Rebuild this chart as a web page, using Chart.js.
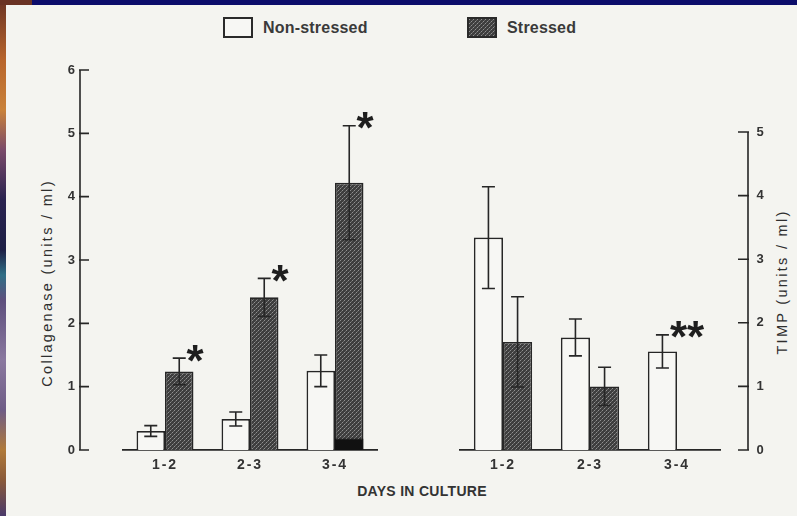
<!DOCTYPE html>
<html>
<head>
<meta charset="utf-8">
<script src="https://cdn.jsdelivr.net/npm/chart.js@4.4.1/dist/chart.umd.min.js"></script>
<style>
  html, body { margin: 0; padding: 0; width: 797px; height: 516px; overflow: hidden; background: #0c0d6b; }
  #edge { position: absolute; left: 0; top: 0; width: 6px; height: 516px;
    background: linear-gradient(to bottom, #6b3424 0px, #b8652c 60px, #c9823a 110px, #7a4a6a 150px, #2a2350 200px,
      #1d1f45 250px, #2f6f86 275px, #5d4f7c 300px, #8a789f 360px, #6e5c86 410px, #b07a3a 450px, #8a5a3a 480px, #4a3a6a 516px); }
  #corner { position: absolute; left: 0; top: 0; width: 32px; height: 5px; background: #6a3324; }
  #sheet { position: absolute; left: 6px; top: 5px; width: 791px; height: 511px; background: #f4f4f0; }
  canvas { position: absolute; top: 0; }
  #collagenase { left: 0; }
  #timp { left: 400px; }
  .txt { position: absolute; font-family: "Liberation Sans", Arial, sans-serif; color: #333; white-space: nowrap; }
  .key { position: absolute; box-sizing: border-box; width: 30px; height: 21px; border: 2px solid #2a2a2a; top: 17px; }
  .legend-label { top: 18px; line-height: 20px; font-size: 16px; font-weight: bold; color: #3a3a3a; letter-spacing: 0.2px; }
  .axis-title { font-size: 14.5px; letter-spacing: 2.3px; color: #2e2e2e; transform: translate(-50%, -50%) rotate(-90deg); }
</style>
</head>
<body>
<div id="sheet"></div>
<div id="edge"></div>
<div id="corner"></div>

<div class="key" id="keyNon" style="left:223px; background:#f7f7f4;"></div>
<div class="txt legend-label" style="left:263px;">Non-stressed</div>
<div class="key" id="keyStr" style="left:467px;"></div>
<div class="txt legend-label" style="left:507px;">Stressed</div>

<div class="txt axis-title" style="left:47px; top:283px;">Collagenase (units / ml)</div>
<div class="txt axis-title" style="left:782px; top:282px;">TIMP (units / ml)</div>
<div class="txt" style="left:322px; top:482px; width:200px; text-align:center; line-height:18px; font-size:14px; font-weight:bold; letter-spacing:0.3px;">DAYS IN CULTURE</div>

<canvas id="collagenase" width="400" height="516"></canvas>
<canvas id="timp" width="397" height="516"></canvas>

<script>
// Culture periods (days)
const days = ['1-2', '2-3', '3-4'];

// Collagenase activity (units / ml), mean and +/- error
const collagenaseNon = [0.30, 0.49, 1.25];
const collagenaseNonErr = [0.085, 0.11, 0.25];
const collagenaseStr = [1.24, 2.41, 4.22];
const collagenaseStrErr = [0.21, 0.30, 0.90];
const collagenaseStrSolid = [null, null, 0.18];
const collagenaseStrMarks = ['*', '*', '*'];

// TIMP (units / ml), mean and +/- error
const timpNon = [3.34, 1.77, 1.55];
const timpNonErr = [0.80, 0.29, 0.26];
const timpNonMarks = ['', '', '**'];
const timpStr = [1.70, 1.00, 0];
const timpStrErr = [0.71, 0.30, 0];

// Axis ranges
const collagenaseMax = 6;
const timpMax = 5;

const FONT = '"Liberation Sans", Arial, sans-serif';
const INK = '#262626';
const PAPER = '#f7f7f4';

// dotted cross-hatch used for the stressed bars
function makeHatchCanvas() {
  const c = document.createElement('canvas');
  c.width = 4; c.height = 4;
  const g = c.getContext('2d');
  g.fillStyle = '#3e3e3e';
  g.fillRect(0, 0, 4, 4);
  g.fillStyle = '#909090';
  g.fillRect(0, 0, 1, 1);
  g.fillRect(2, 2, 1, 1);
  g.fillStyle = '#6a6a6a';
  g.fillRect(1, 3, 1, 1);
  g.fillRect(3, 1, 1, 1);
  return c;
}
const hatchCanvas = makeHatchCanvas();
document.getElementById('keyStr').style.background = 'url(' + hatchCanvas.toDataURL() + ')';

// error bars plus significance marks, computed from the dataset values
const errorBars = {
  id: 'errorBars',
  afterDatasetsDraw(chart) {
    const ctx = chart.ctx;
    const y = chart.scales.y;
    const cap = 6.5;
    chart.data.datasets.forEach((ds, i) => {
      if (!ds.errors) return;
      const meta = chart.getDatasetMeta(i);
      meta.data.forEach((bar, j) => {
        const v = ds.data[j];
        const e = ds.errors[j];
        const top = y.getPixelForValue(v + e);
        if (e) {
          const bot = y.getPixelForValue(v - e);
          ctx.save();
          ctx.strokeStyle = INK;
          ctx.lineWidth = 1.6;
          ctx.beginPath();
          ctx.moveTo(bar.x, top); ctx.lineTo(bar.x, bot);
          ctx.moveTo(bar.x - cap, top); ctx.lineTo(bar.x + cap, top);
          ctx.moveTo(bar.x - cap, bot); ctx.lineTo(bar.x + cap, bot);
          ctx.stroke();
          ctx.restore();
        }
        const mark = ds.marks && ds.marks[j];
        if (mark) {
          ctx.save();
          ctx.letterSpacing = '0px';
          ctx.font = 'bold 44px ' + FONT;
          ctx.fillStyle = '#1e1e1e';
          ctx.textAlign = 'left';
          ctx.textBaseline = 'alphabetic';
          const m = ctx.measureText(mark);
          const cy = top - 5;
          ctx.fillText(mark, bar.x + bar.width / 2 - 7, cy + (m.actualBoundingBoxAscent - m.actualBoundingBoxDescent) / 2);
          ctx.restore();
        }
      });
    });
  }
};

// value axis drawn a little apart from the bars, ticks from the scale
const sideAxis = {
  id: 'sideAxis',
  afterDraw(chart, args, o) {
    const y = chart.scales.y;
    const ctx = chart.ctx;
    const x = o.side === 'left' ? chart.chartArea.left - o.gap : chart.chartArea.right + o.gap;
    ctx.save();
    ctx.strokeStyle = INK;
    ctx.lineWidth = 1.6;
    ctx.beginPath();
    ctx.moveTo(x, y.getPixelForValue(y.min) + 0.8);
    ctx.lineTo(x, y.getPixelForValue(y.max));
    y.ticks.forEach(t => {
      const py = y.getPixelForValue(t.value);
      ctx.moveTo(x - o.back, py);
      ctx.lineTo(x + o.tick, py);
    });
    ctx.stroke();
    ctx.restore();
  }
};

// wider tracking for the typeset labels
const tracking = {
  id: 'tracking',
  beforeDraw(chart) { chart.ctx.letterSpacing = '2px'; },
  afterDraw(chart) { chart.ctx.letterSpacing = '0px'; }
};

function barDatasets(non, nonErr, nonMarks, str, strErr, strMarks, solid) {
  const sets = [
    { label: 'Non-stressed', data: non, errors: nonErr, marks: nonMarks, stack: 'non',
      backgroundColor: PAPER, borderColor: INK, borderWidth: 1.7 }
  ];
  if (solid) {
    sets.push({ label: 'Stressed (solid)', data: solid, stack: 'str',
      backgroundColor: '#111', borderColor: '#111', borderWidth: 1 });
  }
  sets.push({ label: 'Stressed', data: str, errors: strErr, marks: strMarks, stack: 'str',
    backgroundColor: (c) => c.chart.ctx.createPattern(hatchCanvas, 'repeat'),
    borderColor: INK, borderWidth: 1.7 });
  return sets;
}

function baseOptions(side, max, padding, yWidth, yPad) {
  return {
    responsive: false,
    animation: false,
    devicePixelRatio: 1,
    layout: { padding },
    datasets: { bar: { categoryPercentage: 0.67, barPercentage: 1 } },
    plugins: {
      legend: { display: false },
      tooltip: { enabled: false },
      sideAxis: side === 'left' ? { side, gap: 42.5, tick: 9, back: 1 } : { side, gap: 27.5, tick: 1, back: 10 }
    },
    scales: {
      x: {
        stacked: true,
        grid: { display: false, drawTicks: false },
        border: { display: true, color: INK, width: 1.7 },
        ticks: { color: '#333', padding: 7, font: { family: FONT, size: 14, weight: 'bold' } },
        afterFit(s) { s.height = 30; }
      },
      y: {
        position: side,
        stacked: false,
        min: 0,
        max: max,
        grid: { display: false, drawTicks: false },
        border: { display: false },
        ticks: { stepSize: 1, color: '#333', padding: yPad, font: { family: FONT, size: 13, weight: 'bold' } },
        afterFit(s) { s.width = yWidth; }
      }
    }
  };
}

new Chart(document.getElementById('collagenase'), {
  type: 'bar',
  data: {
    labels: days,
    datasets: barDatasets(collagenaseNon, collagenaseNonErr, null,
      collagenaseStr, collagenaseStrErr, collagenaseStrMarks, collagenaseStrSolid)
  },
  options: baseOptions('left', collagenaseMax, { left: 0, right: 22.5, top: 70, bottom: 36 }, 122.5, 45.5),
  plugins: [tracking, errorBars, sideAxis]
});

new Chart(document.getElementById('timp'), {
  type: 'bar',
  data: {
    labels: days,
    datasets: barDatasets(timpNon, timpNonErr, timpNonMarks, timpStr, timpStrErr, null, null)
  },
  options: baseOptions('right', timpMax, { left: 59.5, right: 0, top: 132, bottom: 36 }, 76.5, 36),
  plugins: [tracking, errorBars, sideAxis]
});
</script>
</body>
</html>
